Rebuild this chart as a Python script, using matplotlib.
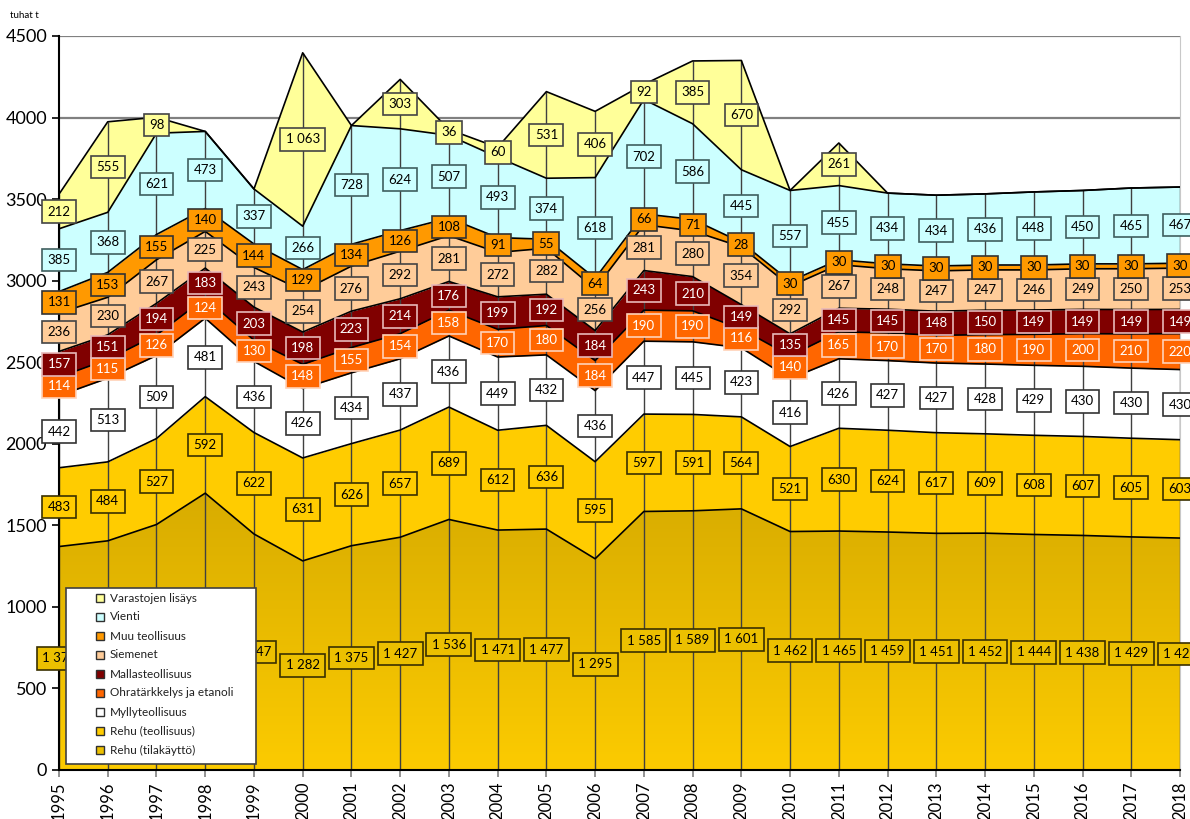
import numpy as np
import matplotlib.pyplot as plt
from matplotlib.patches import Rectangle, Polygon
from matplotlib.colors import LinearSegmentedColormap

plt.rcParams['font.family'] = ['Lato', 'DejaVu Sans']

years = list(range(1995, 2019))

# stacked bottom -> top
rehu_tila = [1370, 1405, 1505, 1697, 1447, 1282, 1375, 1427, 1536, 1471, 1477, 1295,
             1585, 1589, 1601, 1462, 1465, 1459, 1451, 1452, 1444, 1438, 1429, 1422]
rehu_teol = [483, 484, 527, 592, 622, 631, 626, 657, 689, 612, 636, 595,
             597, 591, 564, 521, 630, 624, 617, 609, 608, 607, 605, 603]
mylly = [442, 513, 509, 481, 436, 426, 434, 437, 436, 449, 432, 436,
         447, 445, 423, 416, 426, 427, 427, 428, 429, 430, 430, 430]
ohra = [114, 115, 126, 124, 130, 148, 155, 154, 158, 170, 180, 184,
        190, 190, 116, 140, 165, 170, 170, 180, 190, 200, 210, 220]
mallas = [157, 151, 194, 183, 203, 198, 223, 214, 176, 199, 192, 184,
          243, 210, 149, 135, 145, 145, 148, 150, 149, 149, 149, 149]
siemenet = [236, 230, 267, 225, 243, 254, 276, 292, 281, 272, 282, 256,
            281, 280, 354, 292, 267, 248, 247, 247, 246, 249, 250, 253]
muu = [131, 153, 155, 140, 144, 129, 134, 126, 108, 91, 55, 64,
       66, 71, 28, 30, 30, 30, 30, 30, 30, 30, 30, 30]
vienti = [385, 368, 621, 473, 337, 266, 728, 624, 507, 493, 374, 618,
          702, 586, 445, 557, 455, 434, 434, 436, 448, 450, 465, 467]
varastot = [212, 555, 98, 0, 0, 1063, 0, 303, 36, 60, 531, 406,
            92, 385, 670, 0, 261, 0, 0, 0, 0, 0, 0, 0]

# name, values, fill, label text colour, label edge colour
layers = [
    ('Rehu (tilakäyttö)', rehu_tila, '#ECC000', 'black', '#3a3000'),
    ('Rehu (teollisuus)', rehu_teol, '#FFCC00', 'black', '#3a3000'),
    ('Myllyteollisuus', mylly, '#FFFFFF', 'black', '#333333'),
    ('Ohratärkkelys ja etanoli', ohra, '#FF6600', 'white', '#FFD2B8'),
    ('Mallasteollisuus', mallas, '#800000', 'white', '#E8B8B8'),
    ('Siemenet', siemenet, '#FFCC99', 'black', '#444444'),
    ('Muu teollisuus', muu, '#FF9900', 'black', '#333333'),
    ('Vienti', vienti, '#CCFFFF', 'black', '#3f5f5f'),
    ('Varastojen lisäys', varastot, '#FFFF99', 'black', '#444444'),
]

W, H = 1190, 819
fig = plt.figure(figsize=(W / 100, H / 100), dpi=100)
ax = fig.add_axes([59 / W, 1 - 770 / H, (1180 - 59) / W, (770 - 36) / H])

x = np.array(years)
stack = np.zeros(len(years))
for i, (name, vals, color, tc, ec) in enumerate(layers):
    vals = np.array(vals)
    top = stack + vals
    if i == 0:
        verts = np.column_stack([np.r_[x, x[::-1]], np.r_[top, stack[::-1]]])
        poly = Polygon(verts, closed=True, fc='none', lw=0)
        ax.add_patch(poly)
        cmap = LinearSegmentedColormap.from_list('gold', ['#FCCB00', '#D8AC00'])
        grad = np.linspace(0, 1, 256).reshape(-1, 1)
        im = ax.imshow(grad, extent=[x[0], x[-1], 0, top.max()], origin='lower',
                       aspect='auto', cmap=cmap, zorder=1)
        im.set_clip_path(poly)
    else:
        ax.fill_between(x, stack, top, color=color, lw=0, zorder=1)
    ax.plot(x, top, color='black', lw=1.2, zorder=3)
    for xi, b, v in zip(x, stack, vals):
        if v == 0:
            continue
        txt = f'{v:,}'.replace(',', ' ')
        ax.text(xi, b + v / 2, txt, ha='center', va='center', fontsize=9.5, color=tc,
                bbox=dict(boxstyle='square,pad=0.4', fc=color, ec=ec, lw=1.2), zorder=5)
    stack = top

# drop lines
ax.vlines(x, 0, stack, color='#404040', lw=1, zorder=2)

ax.set_xlim(1995, 2018)
ax.set_ylim(0, 4500)
ax.set_yticks(range(0, 4501, 500))
ax.set_xticks(years)
ax.set_xticklabels([str(y) for y in years], rotation=90, fontsize=12)
ax.tick_params(axis='y', labelsize=13, length=5, width=1.2)
ax.tick_params(axis='x', length=5, width=1.2, color='#808080')
ax.grid(axis='y', color='#808080', lw=1.6, zorder=0)
ax.set_axisbelow(True)
ax.spines['top'].set_visible(False)
ax.spines['right'].set_color('#C8C8C8')
ax.spines['left'].set_linewidth(1.5)
ax.spines['bottom'].set_linewidth(1.5)

fig.text(10 / W, 1 - 15 / H, 'tuhat t', fontsize=7, va='center')

# legend box drawn by hand (pixel layout)
fig.add_artist(Rectangle((66 / W, 1 - 764 / H), 190 / W, 176 / H, transform=fig.transFigure,
                         fc='white', ec='#404040', lw=1.2, zorder=20))
for k, (name, vals, color, tc, ec) in enumerate(layers[::-1]):
    py = 598 + 19 * k
    fig.add_artist(Rectangle((96 / W, 1 - (py + 4) / H), 8 / W, 8 / H, transform=fig.transFigure,
                             fc=color, ec='#303030', lw=1, zorder=21))
    fig.text(110 / W, 1 - py / H, name, fontsize=8.5, va='center', ha='left',
             color='#202020', zorder=22)

fig.savefig('out.png', dpi=100)
